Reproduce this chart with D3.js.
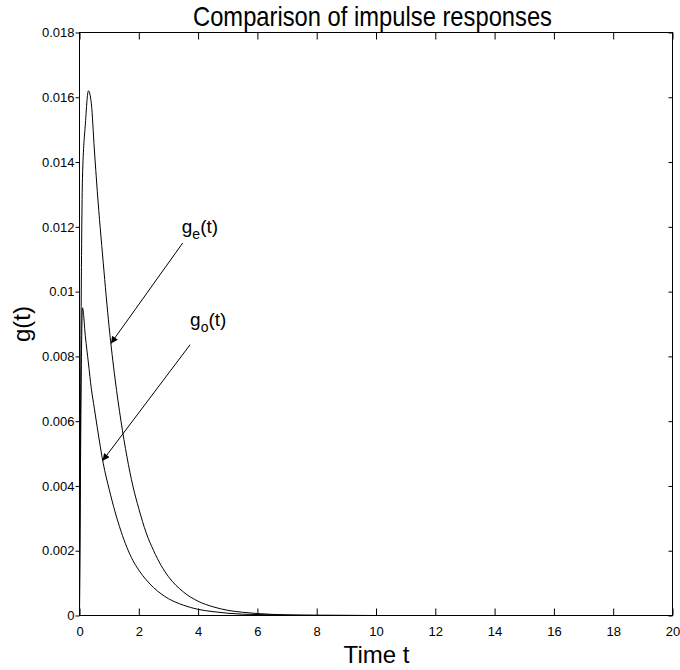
<!DOCTYPE html>
<html>
<head>
<meta charset="utf-8">
<script src="https://cdn.jsdelivr.net/npm/d3@7"></script>
<style>
  body { margin: 0; background: #fff; }
  svg { display: block; font-family: "Liberation Sans", Arial, sans-serif; }
</style>
</head>
<body>
<div id="chart"></div>
<script>
// Data
const timeSteps = [0, 0.1, 0.2, 0.3, 0.4, 0.5, 0.6, 0.8, 1.0, 1.2, 1.4, 1.6, 1.8, 2.0,
  2.25, 2.5, 2.75, 3.0, 3.5, 4.0, 4.5, 5.0, 5.5, 6.0, 7.0, 8.0, 10, 12, 14, 16, 18, 20]
const geValues = [0, 0.0135, 0.0152, 0.0162, 0.0158, 0.0144, 0.0131, 0.0109, 0.0089, 0.0073,
  0.0060, 0.0049, 0.0040, 0.0033, 0.00255, 0.0020, 0.00155, 0.0012, 0.00073, 0.00044,
  0.00027, 0.00016, 0.0001, 0.00006, 0.00002, 0.000008, 0, 0, 0, 0, 0, 0]
const goValues = [0, 0.0095, 0.0086, 0.0078, 0.0070, 0.0064, 0.0058, 0.0047, 0.0039, 0.0032,
  0.0026, 0.0021, 0.0017, 0.0014, 0.0011, 0.00086, 0.00067, 0.00052, 0.00032, 0.00019,
  0.00012, 0.00007, 0.00004, 0.00003, 0.00001, 0.000004, 0, 0, 0, 0, 0, 0]

const xTicks = [0, 2, 4, 6, 8, 10, 12, 14, 16, 18, 20]
const xTickLabels = ['0', '2', '4', '6', '8', '10', '12', '14', '16', '18', '20']
const yTicks = [0, 0.002, 0.004, 0.006, 0.008, 0.01, 0.012, 0.014, 0.016, 0.018]
const yTickLabels = ['0', '0.002', '0.004', '0.006', '0.008', '0.01', '0.012', '0.014', '0.016', '0.018']

// annotation: subscript, arrow tip / tail and label anchor in data units
const annotations = [
  { sub: 'e', tip: [1.06, 0.0084], tail: [3.48, 0.0115], label: [3.45, 0.0118] },
  { sub: 'o', tip: [0.78, 0.00478], tail: [3.73, 0.00836], label: [3.73, 0.00895] },
]

// Dimensions
const dims = { width: 680, height: 670, left: 79.5, right: 672.5, top: 32.5, bottom: 615.5 }

const svg = d3.select('#chart')
  .append('svg')
  .attr('width', dims.width)
  .attr('height', dims.height)

svg.append('defs').append('marker')
  .attr('id', 'arrow')
  .attr('viewBox', '0 0 10 10')
  .attr('refX', 10)
  .attr('refY', 5)
  .attr('markerUnits', 'userSpaceOnUse')
  .attr('markerWidth', 10)
  .attr('markerHeight', 7)
  .attr('orient', 'auto')
  .append('path')
  .attr('d', 'M0,0L10,5L0,10Z')
  .attr('fill', '#000')

// Scales
const xScale = d3.scaleLinear().domain([0, 20]).range([dims.left, dims.right])
const yScale = d3.scaleLinear().domain([0, 0.018]).range([dims.bottom, dims.top])

// Axes
const styleAxis = g => {
  g.select('.domain').remove()
  g.attr('font-family', null).attr('font-size', 13)
  g.selectAll('line').attr('stroke', '#000')
  g.selectAll('text').attr('fill', '#000')
}

svg.append('g')
  .attr('transform', `translate(0, ${dims.bottom})`)
  .call(d3.axisBottom(xScale).tickValues(xTicks).tickSize(-7).tickPadding(11)
    .tickFormat((d, i) => xTickLabels[i]))
  .call(styleAxis)

svg.append('g')
  .attr('transform', `translate(0, ${dims.top})`)
  .call(d3.axisTop(xScale).tickValues(xTicks).tickSize(-7).tickFormat(''))
  .call(styleAxis)

svg.append('g')
  .attr('transform', `translate(${dims.left}, 0)`)
  .call(d3.axisLeft(yScale).tickValues(yTicks).tickSize(4).tickPadding(1)
    .tickFormat((d, i) => yTickLabels[i]))
  .call(styleAxis)

svg.append('g')
  .attr('transform', `translate(${dims.right}, 0)`)
  .call(d3.axisRight(yScale).tickValues(yTicks).tickSize(-4).tickFormat(''))
  .call(styleAxis)

svg.append('rect')
  .attr('x', dims.left)
  .attr('y', dims.top)
  .attr('width', dims.right - dims.left)
  .attr('height', dims.bottom - dims.top)
  .attr('fill', 'none')
  .attr('stroke', '#000')

// Curves
const line = d3.line()
  .x((d, i) => xScale(timeSteps[i]))
  .y(d => yScale(d))
  .curve(d3.curveMonotoneX)

svg.selectAll('path.curve')
  .data([geValues, goValues])
  .join('path')
  .attr('class', 'curve')
  .attr('d', line)
  .attr('fill', 'none')
  .attr('stroke', '#000')
  .attr('stroke-width', 1)

// Annotations
svg.selectAll('line.arrow')
  .data(annotations)
  .join('line')
  .attr('class', 'arrow')
  .attr('x1', d => xScale(d.tail[0]))
  .attr('y1', d => yScale(d.tail[1]))
  .attr('x2', d => xScale(d.tip[0]))
  .attr('y2', d => yScale(d.tip[1]))
  .attr('stroke', '#000')
  .attr('marker-end', 'url(#arrow)')

const labels = svg.selectAll('text.anno')
  .data(annotations)
  .join('text')
  .attr('class', 'anno')
  .attr('x', d => xScale(d.label[0]))
  .attr('y', d => yScale(d.label[1]))
  .attr('font-size', 19)

labels.append('tspan').text('g')
labels.append('tspan').attr('dy', 6).attr('font-size', 14).text(d => d.sub)
labels.append('tspan').attr('dy', -6).text('(t)')

// Titles
svg.append('text')
  .attr('x', 372.5)
  .attr('y', 26)
  .attr('text-anchor', 'middle')
  .attr('font-size', 28)
  .attr('textLength', 359)
  .attr('lengthAdjust', 'spacingAndGlyphs')
  .text('Comparison of impulse responses')

svg.append('text')
  .attr('x', 376.5)
  .attr('y', 663)
  .attr('text-anchor', 'middle')
  .attr('font-size', 24)
  .text('Time t')

svg.append('text')
  .attr('transform', 'translate(30, 324) rotate(-90)')
  .attr('text-anchor', 'middle')
  .attr('font-size', 24)
  .text('g(t)')
</script>
</body>
</html>
